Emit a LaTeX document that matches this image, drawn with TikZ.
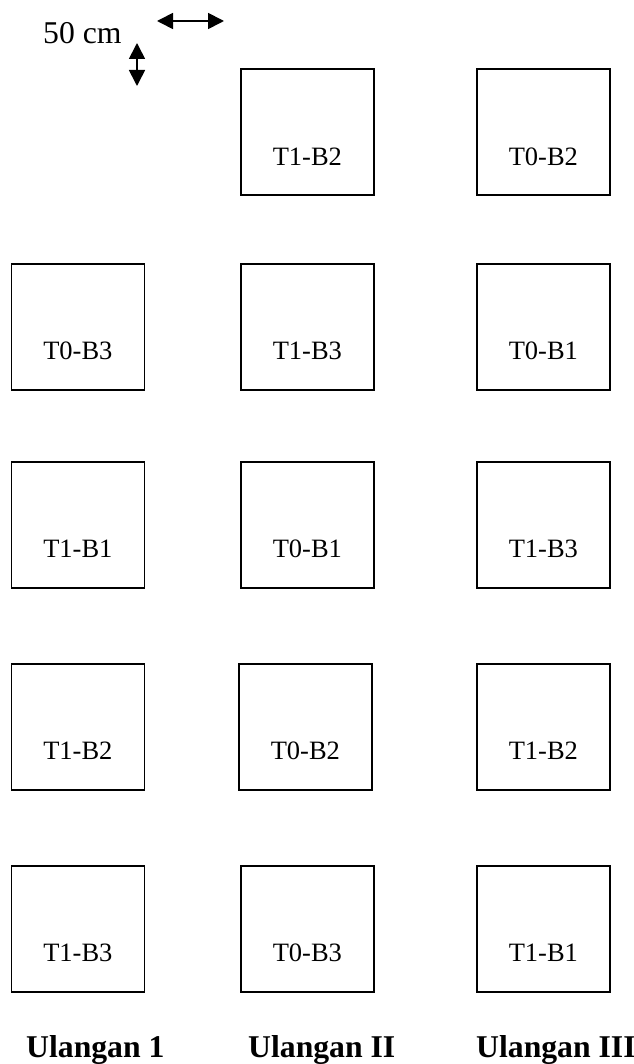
\documentclass[tikz,border=0pt]{standalone}
\usepackage{fontspec}
\setmainfont{Liberation Serif}
\usetikzlibrary{arrows.meta}
\tikzset{
  plot/.style={draw, line width=1.7pt, minimum width=133pt, minimum height=126pt, inner sep=0pt, anchor=north west},
  plotname/.style={inner sep=0pt, font=\fontsize{26.5}{30}\selectfont},
  ulangan/.style={inner sep=0pt, anchor=base west, font=\fontsize{31.7}{36}\selectfont\bfseries},
  skala/.style={line width=1.7pt, {Triangle[length=16pt,width=16pt]}-{Triangle[length=16pt,width=16pt]}},
}
\begin{document}
\begin{tikzpicture}[x=1pt, y=-1pt, font=\fontsize{31.7}{36}\selectfont]
  \useasboundingbox (0,0) rectangle (633,1064);
  % jarak antar petak
  \node[inner sep=0pt, anchor=base west] (jarak) at (43,44) {50 cm};
  \coordinate (h1) at (157,21);
  \coordinate (h2) at (224,21);
  \coordinate (v1) at (137,43);
  \coordinate (v2) at (137,86);
  \draw[skala] (h1) -- (h2);
  \draw[skala] (v1) -- (v2);
  % ulangan I
  \node[plot] (a2) at (10.5,263) {};
  \node[plot] (a3) at (10.5,461) {};
  \node[plot] (a4) at (10.5,663) {};
  \node[plot] (a5) at (10.5,865) {};
  \node[plotname] (ta2) at ([yshift=-24pt]a2.center) {T0-B3};
  \node[plotname] (ta3) at ([yshift=-24pt]a3.center) {T1-B1};
  \node[plotname] (ta4) at ([yshift=-24pt]a4.center) {T1-B2};
  \node[plotname] (ta5) at ([yshift=-24pt]a5.center) {T1-B3};
  % ulangan II
  \node[plot] (b1) at (240,68.5) {};
  \node[plot] (b2) at (240,263) {};
  \node[plot] (b3) at (240,461) {};
  \node[plot] (b4) at (238,663) {};
  \node[plot] (b5) at (240,865) {};
  \node[plotname] (tb1) at ([yshift=-24pt]b1.center) {T1-B2};
  \node[plotname] (tb2) at ([yshift=-24pt]b2.center) {T1-B3};
  \node[plotname] (tb3) at ([yshift=-24pt]b3.center) {T0-B1};
  \node[plotname] (tb4) at ([yshift=-24pt]b4.center) {T0-B2};
  \node[plotname] (tb5) at ([yshift=-24pt]b5.center) {T0-B3};
  % ulangan III
  \node[plot] (c1) at (476,68.5) {};
  \node[plot] (c2) at (476,263) {};
  \node[plot] (c3) at (476,461) {};
  \node[plot] (c4) at (476,663) {};
  \node[plot] (c5) at (476,865) {};
  \node[plotname] (tc1) at ([yshift=-24pt]c1.center) {T0-B2};
  \node[plotname] (tc2) at ([yshift=-24pt]c2.center) {T0-B1};
  \node[plotname] (tc3) at ([yshift=-24pt]c3.center) {T1-B3};
  \node[plotname] (tc4) at ([yshift=-24pt]c4.center) {T1-B2};
  \node[plotname] (tc5) at ([yshift=-24pt]c5.center) {T1-B1};
  % keterangan
  \node[ulangan] (u1) at (26,1057) {Ulangan 1};
  \node[ulangan] (u2) at (248,1057) {Ulangan II};
  \node[ulangan] (u3) at (476,1057) {Ulangan III};
\end{tikzpicture}
\end{document}
